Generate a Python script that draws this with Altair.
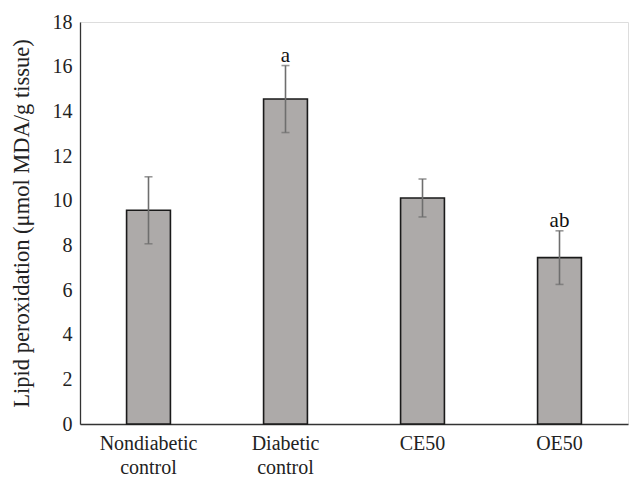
import altair as alt
import pandas as pd

groups = ["Nondiabetic\ncontrol", "Diabetic\ncontrol", "CE50", "OE50"]
means = [9.57, 14.55, 10.12, 7.45]
errors = [1.5, 1.5, 0.85, 1.2]
letters = ["", "a", "", "ab"]

df = pd.DataFrame({
    "group": groups,
    "mean": means,
    "lo": [m - e for m, e in zip(means, errors)],
    "hi": [m + e for m, e in zip(means, errors)],
    "sig": letters,
})

FONT = "Liberation Serif"

x = alt.X("group:N", sort=groups, title=None,
          scale=alt.Scale(paddingInner=0.68, paddingOuter=0.34),
          axis=alt.Axis(labelAngle=0, labelExpr="split(datum.label, '\\n')",
                        labelFont=FONT, labelFontSize=20, labelColor="#222",
                        labelPadding=9, labelLineHeight=24, ticks=False,
                        domainColor="#333", domainWidth=1.3))

y_scale = alt.Scale(domain=[0, 18], nice=False)

bars = alt.Chart(df).mark_bar(color="#adaaa9", stroke="#1a1a1a", strokeWidth=1.6).encode(
    x=x,
    y=alt.Y("mean:Q", scale=y_scale,
            title="Lipid peroxidation (μmol MDA/g tissue)",
            axis=alt.Axis(values=list(range(0, 19, 2)), grid=False, ticks=False,
                          labelFont=FONT, labelFontSize=20, labelColor="#222",
                          labelPadding=8, titleFont=FONT, titleFontSize=22.5,
                          titleFontWeight="normal", titleColor="#222",
                          titlePadding=19, domainColor="#333", domainWidth=1.3)),
)

rules = alt.Chart(df).mark_rule(color="#6e6e6e", strokeWidth=1.6).encode(
    x=alt.X("group:N", sort=groups),
    y=alt.Y("lo:Q", scale=y_scale),
    y2="hi:Q",
)

caps_hi = alt.Chart(df).mark_tick(color="#6e6e6e", thickness=1.6, size=8, orient="horizontal").encode(
    x=alt.X("group:N", sort=groups),
    y=alt.Y("hi:Q", scale=y_scale),
)
caps_lo = alt.Chart(df).mark_tick(color="#6e6e6e", thickness=1.6, size=8, orient="horizontal").encode(
    x=alt.X("group:N", sort=groups),
    y=alt.Y("lo:Q", scale=y_scale),
)

labels = alt.Chart(df).mark_text(font=FONT, fontSize=21, color="#111", baseline="alphabetic", dy=-4).encode(
    x=alt.X("group:N", sort=groups),
    y=alt.Y("hi:Q", scale=y_scale),
    text="sig:N",
)

chart = alt.layer(bars, rules, caps_hi, caps_lo, labels).properties(
    width=548, height=402,
    autosize=alt.AutoSizeParams(type="none"),
    padding={"left": 72, "top": 14, "right": 7, "bottom": 58},
).configure_view(stroke=None).configure(background="white")

chart.save("out.html", embed_options={"renderer": "svg", "actions": False})
